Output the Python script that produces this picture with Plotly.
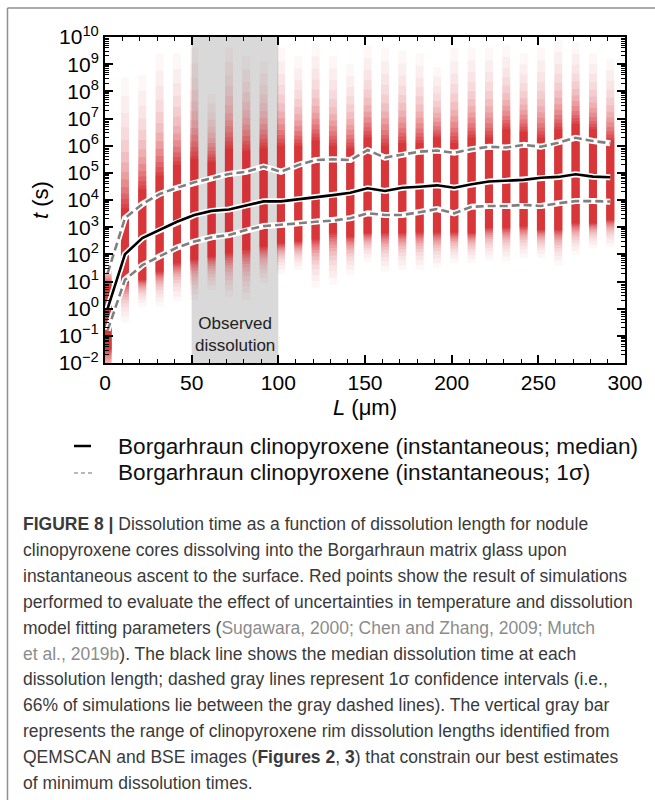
import numpy as np
import plotly.graph_objects as go

# ---------------- data ----------------
L_um = [1.5, 11.5, 21.5, 31.5, 41.5, 51.5, 61.5, 71.5, 81.5, 91.5,
        101.5, 111.5, 121.5, 131.5, 141.5, 151.5, 161.5, 171.5, 181.5, 191.5,
        201.5, 211.5, 221.5, 231.5, 241.5, 251.5, 261.5, 271.5, 281.5, 291.5]

# log10 of dissolution time t (s)
median_log = [0.0, 2.0, 2.6, 2.9, 3.2, 3.45, 3.6, 3.65, 3.8, 3.95,
              3.95, 4.02, 4.1, 4.18, 4.27, 4.43, 4.33, 4.45, 4.49, 4.54,
              4.45, 4.58, 4.68, 4.71, 4.74, 4.82, 4.85, 4.95, 4.86, 4.84]
upper1s_log = [1.3, 3.33, 3.85, 4.22, 4.45, 4.65, 4.8, 4.96, 5.04, 5.23,
               5.04, 5.29, 5.47, 5.5, 5.47, 5.84, 5.56, 5.66, 5.78, 5.82,
               5.74, 5.87, 5.96, 5.93, 6.03, 5.96, 6.11, 6.29, 6.17, 6.09]
lower1s_log = [-0.8, 1.06, 1.6, 1.94, 2.25, 2.47, 2.63, 2.71, 2.9, 3.04,
               3.08, 3.14, 3.2, 3.24, 3.33, 3.51, 3.45, 3.45, 3.55, 3.67,
               3.51, 3.75, 3.78, 3.78, 3.82, 3.78, 3.88, 3.96, 3.96, 3.94]

# extent of simulated points per column (log10 t): faint ends and dense core
sim_max_log = [2.0, 8.5, 8.6, 9.4, 9.4, 9.6, 7.9, 9.6, 9.3, 9.1,
               9.6, 9.3, 9.8, 9.3, 9.0, 9.7, 9.6, 9.5, 9.4, 8.9,
               9.6, 9.6, 9.6, 9.7, 9.4, 9.6, 9.9, 9.8, 9.4, 9.2]
core_hi_log = [0.9, 3.7, 4.4, 4.9, 5.3, 5.5, 5.4, 5.9, 5.8, 5.9,
               6.0, 6.0, 6.2, 6.0, 5.9, 6.3, 6.0, 6.1, 6.1, 6.3,
               6.1, 6.3, 6.3, 6.6, 6.5, 6.3, 6.6, 6.8, 6.6, 6.2]
core_lo_log = [-1.5, 0.95, 1.06, 1.36, 1.67, 1.8, 1.91, 2.04, 2.16, 2.28,
               2.4, 2.47, 2.55, 2.78, 2.65, 2.78, 2.78, 2.78, 2.8, 2.8,
               2.8, 2.78, 2.97, 2.97, 3.02, 2.9, 2.9, 3.14, 3.14, 3.26]
sim_min_log = [-3.0, -0.5, 0.07, 0.07, 0.26, 0.32, 0.69, 0.44, 0.32, 0.95,
               1.3, 1.42, 0.77, 0.87, 1.24, 1.73, 1.36, 1.42, 1.42, 1.5,
               1.68, 1.68, 1.8, 1.75, 1.87, 1.87, 1.6, 1.98, 2.23, 2.28]

observed_range = [50, 100]
x_ticks = [0, 50, 100, 150, 200, 250, 300]
y_exps = list(range(-2, 11))
y_ticktext = ["10<sup>\u2212%d</sup>" % (-e) if e < 0 else "10<sup>%d</sup>" % e for e in y_exps]

legend_labels = ["Borgarhraun clinopyroxene (instantaneous; median)",
                 "Borgarhraun clinopyroxene (instantaneous; 1\u03c3)"]

caption_lines = [
    "<b>FIGURE 8 |</b> Dissolution time as a function of dissolution length for nodule",
    "clinopyroxene cores dissolving into the Borgarhraun matrix glass upon",
    "instantaneous ascent to the surface. Red points show the result of simulations",
    "performed to evaluate the effect of uncertainties in temperature and dissolution",
    "model fitting parameters (<span style='color:#8c8c8c'>Sugawara, 2000; Chen and Zhang, 2009; Mutch</span>",
    "<span style='color:#8c8c8c'>et al., 2019b</span>). The black line shows the median dissolution time at each",
    "dissolution length; dashed gray lines represent 1\u03c3 confidence intervals (i.e.,",
    "66% of simulations lie between the gray dashed lines). The vertical gray bar",
    "represents the range of clinopyroxene rim dissolution lengths identified from",
    "QEMSCAN and BSE images (<b>Figures 2</b>, <b>3</b>) that constrain our best estimates",
    "of minimum dissolution times.",
]

# ---------------- layout geometry ----------------
W, H = 655, 800
PL, PR, PT, PB = 105, 625, 37, 363


def px_x(p):
    return (p - PL) / (PR - PL)


def px_y(p):
    return (PB - p) / (PB - PT)


FONT = "Liberation Sans, Arial, Helvetica, sans-serif"
RED = "212,36,40"
COL_HALF_W = 2.3  # half width of a point column in axis units (~8 px)
# translucent layers that build the fading point clouds: (tail fraction, opacity)
FADE_LAYERS = [(1.0, 0.035), (0.86, 0.04), (0.73, 0.045), (0.62, 0.055), (0.52, 0.065),
               (0.43, 0.08), (0.35, 0.1), (0.28, 0.12), (0.22, 0.15), (0.16, 0.18),
               (0.11, 0.22), (0.07, 0.26), (0.03, 0.3), (0.0, 0.45)]

fig = go.Figure()

# simulated point columns drawn as stacked translucent strips
for g, a in FADE_LAYERS:
    xs, ys = [], []
    for x0, mn, lo, hi, mx in zip(L_um, sim_min_log, core_lo_log, core_hi_log, sim_max_log):
        yb = 10 ** (lo - (lo - mn) * g)
        yt = 10 ** (hi + (mx - hi) * g)
        xs += [x0 - COL_HALF_W, x0 + COL_HALF_W, x0 + COL_HALF_W, x0 - COL_HALF_W, x0 - COL_HALF_W, None]
        ys += [yb, yb, yt, yt, yb, None]
    fig.add_trace(go.Scatter(x=xs, y=ys, mode="lines", fill="toself", line=dict(width=0),
                             fillcolor="rgba(%s,%.3f)" % (RED, a), hoverinfo="skip", showlegend=False))

t_med = [10 ** v for v in median_log]
t_up = [10 ** v for v in upper1s_log]
t_lo = [10 ** v for v in lower1s_log]

for ys in (t_up, t_lo):
    fig.add_trace(go.Scatter(x=L_um, y=ys, mode="lines", line=dict(color="white", width=6),
                             hoverinfo="skip", showlegend=False))
    fig.add_trace(go.Scatter(x=L_um, y=ys, mode="lines",
                             line=dict(color="#7f7f7f", width=2.6, dash="8px,4px"),
                             name=legend_labels[1], showlegend=False))
fig.add_trace(go.Scatter(x=L_um, y=t_med, mode="lines", line=dict(color="white", width=6),
                         hoverinfo="skip", showlegend=False))
fig.add_trace(go.Scatter(x=L_um, y=t_med, mode="lines", line=dict(color="black", width=2.6),
                         name=legend_labels[0], showlegend=False))

shapes = [
    dict(type="rect", xref="x", yref="paper", x0=observed_range[0], x1=observed_range[1],
         y0=0, y1=1, fillcolor="#d9d9d9", line=dict(width=0), layer="below"),
    # outer frame of the figure panel
    dict(type="line", xref="paper", yref="paper", x0=px_x(7.5), x1=px_x(7.5), y0=px_y(8), y1=px_y(820),
         line=dict(color="#8f8f8f", width=1.5)),
    dict(type="line", xref="paper", yref="paper", x0=px_x(7.5), x1=px_x(670), y0=px_y(8), y1=px_y(8),
         line=dict(color="#8f8f8f", width=1.5)),
    # legend symbols
    dict(type="line", xref="paper", yref="paper", x0=px_x(74), x1=px_x(91), y0=px_y(446), y1=px_y(446),
         line=dict(color="black", width=2.5)),
    dict(type="line", xref="paper", yref="paper", x0=px_x(74), x1=px_x(92), y0=px_y(473), y1=px_y(473),
         line=dict(color="#a0a0a0", width=1.5, dash="4px,3px")),
]

annotations = [
    dict(x=sum(observed_range) / 2, y=px_y(334), xref="x", yref="paper", text="Observed<br>dissolution",
         showarrow=False, font=dict(family=FONT, size=17, color="#222"), xanchor="center", yanchor="middle"),
]
for i, lab in enumerate(legend_labels):
    annotations.append(dict(x=px_x(116), y=px_y(446 + 26.5 * i), xref="paper", yref="paper", text=lab,
                            showarrow=False, xanchor="left", yanchor="middle",
                            font=dict(family=FONT, size=22.6, color="#111")))
for i, line in enumerate(caption_lines):
    annotations.append(dict(x=px_x(21), y=px_y(524 + 25.9 * i), xref="paper", yref="paper", text=line,
                            showarrow=False, xanchor="left", yanchor="middle",
                            font=dict(family=FONT, size=17.5, color="#3a3a3a")))

fig.update_layout(
    width=W, height=H,
    margin=dict(l=PL, r=W - PR, t=PT, b=H - PB, pad=0),
    paper_bgcolor="white", plot_bgcolor="white",
    shapes=shapes, annotations=annotations, showlegend=False,
    font=dict(family=FONT, color="black"),
    xaxis=dict(range=[0, 300], tickmode="array", tickvals=x_ticks, ticks="inside", ticklen=8,
               tickwidth=1.5, tickcolor="black",
               minor=dict(dtick=10, tick0=0, ticks="inside", ticklen=4, tickwidth=1.2, tickcolor="black"),
               showline=True, linewidth=2, linecolor="black", mirror="ticks",
               showgrid=False, zeroline=False, tickfont=dict(size=21, family=FONT),
               title=dict(text="<i>L</i> (\u03bcm)", font=dict(size=22, family=FONT), standoff=6)),
    yaxis=dict(type="log", range=[-2, 10], tickmode="array", tickvals=[10.0 ** e for e in y_exps],
               ticktext=y_ticktext, ticks="inside", ticklen=8, tickwidth=1.5, tickcolor="black",
               minor=dict(dtick="D1", ticks="inside", ticklen=4, tickwidth=1, tickcolor="black"),
               showline=True, linewidth=2, linecolor="black", mirror="ticks",
               showgrid=False, zeroline=False, tickfont=dict(size=21, family=FONT),
               title=dict(text="<i>t</i> (s)", font=dict(size=22, family=FONT), standoff=4)),
)

fig.write_html("out.html")
